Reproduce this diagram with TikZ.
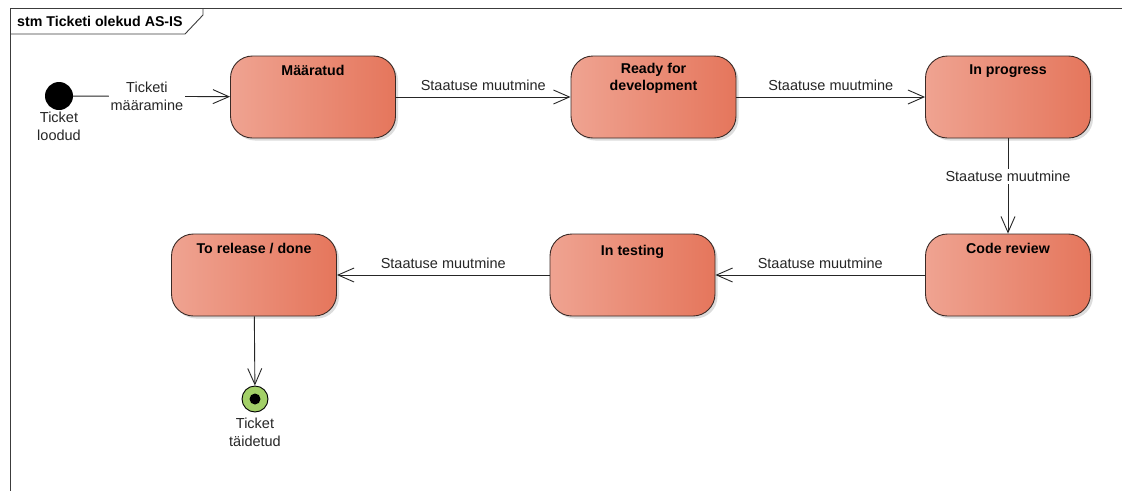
\documentclass[tikz,border=0pt]{standalone}
\usepackage{fontspec}
\setmainfont{Liberation Sans}
\usetikzlibrary{arrows.meta,shadows}

\definecolor{stateL}{RGB}{239,163,145}
\definecolor{stateR}{RGB}{229,118,92}
\definecolor{stateEdge}{RGB}{58,42,38}
\definecolor{finalG}{RGB}{163,208,104}
\definecolor{frameC}{RGB}{60,60,60}

\newcommand{\lblfont}{\fontsize{14.5}{18}\selectfont}
\newcommand{\ttlfont}{\bfseries\fontsize{14.2}{17}\selectfont}

\begin{document}
\begin{tikzpicture}[x=1pt,y=-1pt,
  statebox/.style={draw=stateEdge, line width=0.9pt, rounded corners=22pt,
    minimum width=165pt, minimum height=82pt, inner sep=0pt,
    left color=stateL, right color=stateR,
    drop shadow={shadow xshift=2.5pt, shadow yshift=-2.5pt, fill=black!30, opacity=0.45}},
  ttl/.style={anchor=north, inner sep=0pt, yshift=-9pt, align=center, font=\ttlfont},
  trans/.style={draw=black!85, line width=0.9pt, -{Straight Barb[length=16pt,width=14pt,line width=0.9pt]}},
  lbl/.style={font=\lblfont, inner sep=1pt, text=black!85},
  above lbl/.style={lbl, anchor=south, yshift=5pt},
  boxed lbl/.style={lbl, fill=white, align=center, inner sep=2pt},
  pseudo lbl/.style={anchor=north, inner sep=0pt, align=center, font=\lblfont, text=black!85}
]
% canvas
\fill[white] (0,0) rectangle (1122,491);
\useasboundingbox (0,0) rectangle (1122,491);

% diagram frame with its name tab
\draw[frameC, line width=0.9pt] (1122,8) -- (10,8) -- (10,491);
\draw[frameC, line width=0.9pt] (10,34) -- (185,34) -- (203,15) -- (203,8);
\node[anchor=west, inner sep=0pt, font=\ttlfont] (frametitle) at (17,21) {stm Ticketi olekud AS-IS};

% initial and final pseudo states
\node[circle, fill=black, minimum size=28pt, inner sep=0pt,
      label={[pseudo lbl, yshift=-2pt]south:Ticket\\loodud}] (init) at (59,96) {};
\node[circle, draw=black, line width=0.9pt, fill=finalG, minimum size=26pt, inner sep=0pt,
      path picture={\fill[black] (path picture bounding box.center) circle (5.5pt);},
      label={[pseudo lbl, yshift=-5pt]south:Ticket\\täidetud}] (fin) at (255,399) {};

% states
\node[statebox, label={[ttl]north:Määratud}] (maar) at (313,97) {};
\node[statebox, label={[ttl, yshift=2pt]north:Ready for\\development}] (ready) at (653.5,97) {};
\node[statebox, label={[ttl]north:In progress}] (prog) at (1008,97) {};
\node[statebox, label={[ttl]north:Code review}] (review) at (1008,275) {};
\node[statebox, label={[ttl, yshift=-2pt]north:In testing}] (test) at (632.5,275) {};
\node[statebox, label={[ttl]north:To release / done}] (done) at (254,275) {};

% transitions
\draw[trans] (init) -- node[boxed lbl, pos=0.47] (l0) {Ticketi\\määramine} (maar);
\draw[trans] (maar) -- node[above lbl] (l1) {Staatuse muutmine} (ready);
\draw[trans] (ready) -- node[above lbl] (l2) {Staatuse muutmine} (prog);
\draw[trans] (prog) -- node[boxed lbl, pos=0.4] (l3) {Staatuse muutmine} (review);
\draw[trans] (review) -- node[above lbl] (l4) {Staatuse muutmine} (test);
\draw[trans] (test) -- node[above lbl] (l5) {Staatuse muutmine} (done);
\draw[trans] (done) -- (fin);
\end{tikzpicture}
\end{document}
